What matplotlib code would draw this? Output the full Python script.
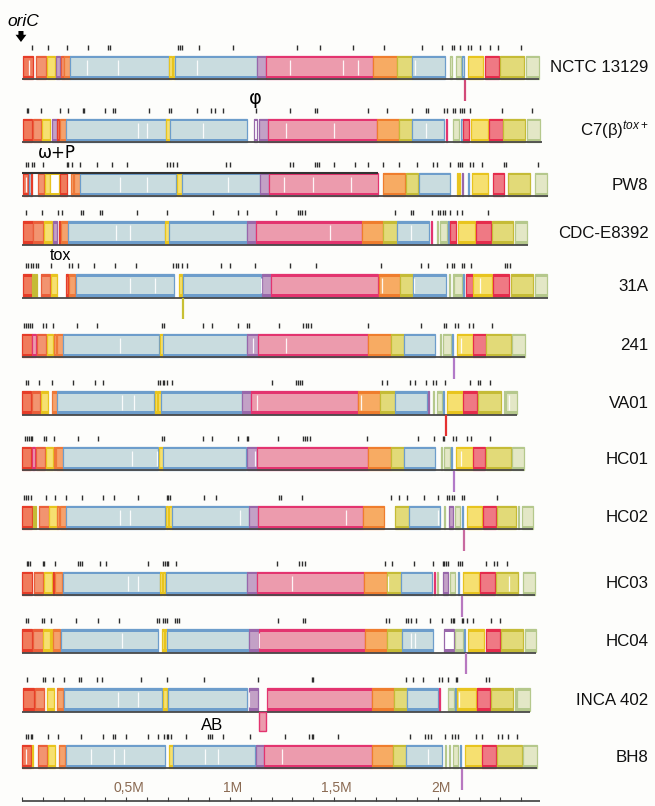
import matplotlib
matplotlib.use("Agg")
import matplotlib.pyplot as plt
from matplotlib.patches import Rectangle

plt.rcParams['font.family'] = ['Liberation Sans', 'DejaVu Sans']
plt.rcParams['mathtext.fontset'] = 'custom'
plt.rcParams['mathtext.rm'] = 'Liberation Sans'
plt.rcParams['mathtext.it'] = 'Liberation Sans:italic'

# genomes, top to bottom; all positions in kb
strains = ['NCTC 13129', r'C7(β)$^{\mathit{tox+}}$', 'PW8', 'CDC-E8392', '31A', '241',
           'VA01', 'HC01', 'HC02', 'HC03', 'HC04', 'INCA 402', 'BH8']
lengths = [2486, 2499, 2530, 2431, 2528, 2418, 2381, 2414, 2458, 2467, 2471, 2442, 2475]

# locally collinear blocks: (start, end, colour key)
nctc13129 = [(5, 53, 'R'), (67, 115, 'S'), (120, 159, 'Y'), (163, 183, 'P'), (188, 202, 'S'),
             (202, 231, 'O'), (231, 707, 'B'), (707, 721, 'Y'), (724, 736, 'Y'), (736, 1130, 'B'),
             (1130, 1173, 'P'), (1173, 1688, 'K'), (1688, 1803, 'A'), (1803, 1875, 'L'),
             (1875, 2034, 'B'), (2058, 2065, 'G'), (2087, 2111, 'G'), (2116, 2125, 'B'),
             (2144, 2216, 'Y'), (2226, 2293, 'D'), (2298, 2414, 'L'), (2423, 2486, 'G')]
c7 = [(3, 50, 'R'), (53, 93, 'S'), (96, 135, 'Y'), (143, 167, 'P'), (170, 178, 'R'),
      (183, 212, 'O'), (212, 691, 'B'), (691, 712, 'Y'), (712, 1082, 'B'), (1115, 1128, 'p'),
      (1139, 1183, 'P'), (1183, 1705, 'K'), (1705, 1813, 'A'), (1813, 1874, 'L'),
      (1874, 2029, 'B'), (2039, 2043, 'K'), (2072, 2101, 'G'), (2109, 2122, 'B'),
      (2122, 2151, 'D'), (2157, 2242, 'Y'), (2247, 2311, 'D'), (2314, 2420, 'L'),
      (2429, 2491, 'G')]
pw8 = [(6, 29, 'R'), (34, 41, 'B'), (41, 50, 'R'), (75, 107, 'S'), (111, 135, 'Y'),
       (135, 179, 'y'), (183, 215, 'R'), (236, 247, 'O'), (250, 279, 'O'), (279, 740, 'B'),
       (744, 768, 'Y'), (768, 1144, 'B'), (1144, 1189, 'P'), (1189, 1713, 'K'),
       (1734, 1841, 'A'), (1846, 1905, 'L'), (1910, 2058, 'B'), (2089, 2094, 'Y'),
       (2101, 2106, 'Y'), (2113, 2120, 'P'), (2142, 2149, 'B'), (2162, 2242, 'Y'),
       (2263, 2319, 'D'), (2338, 2442, 'L'), (2466, 2523, 'G')]
cdc_e8392 = [(3, 51, 'R'), (54, 100, 'S'), (106, 143, 'Y'), (150, 170, 'P'), (176, 183, 'R'),
             (188, 220, 'O'), (220, 688, 'B'), (688, 707, 'Y'), (707, 1080, 'B'),
             (1080, 1125, 'P'), (1125, 1633, 'K'), (1633, 1737, 'A'), (1737, 1802, 'L'),
             (1802, 1958, 'B'), (1966, 1971, 'K'), (1993, 1998, 'G'), (2010, 2042, 'G'),
             (2046, 2051, 'B'), (2058, 2087, 'D'), (2095, 2178, 'Y'), (2183, 2255, 'D'),
             (2261, 2362, 'L'), (2370, 2427, 'G')]
s31a = [(3, 47, 'R'), (49, 54, 'L'), (57, 62, 'L'), (65, 70, 'L'), (90, 135, 'S'),
        (138, 170, 'Y'), (212, 220, 'R'), (227, 255, 'O'), (260, 731, 'B'), (756, 771, 'Y'),
        (776, 1149, 'B'), (1152, 1196, 'P'), (1196, 1710, 'K'), (1716, 1817, 'A'),
        (1817, 1881, 'L'), (1881, 2039, 'B'), (2053, 2058, 'G'), (2070, 2075, 'G'),
        (2078, 2114, 'G'), (2120, 2125, 'B'), (2133, 2167, 'D'), (2170, 2260, 'Y'),
        (2266, 2343, 'D'), (2350, 2455, 'L'), (2466, 2523, 'G')]
s241 = [(0, 47, 'R'), (50, 66, 'K'), (71, 114, 'S'), (119, 150, 'Y'), (154, 163, 'O'),
        (170, 196, 'O'), (199, 660, 'B'), (663, 679, 'Y'), (679, 1080, 'B'), (1083, 1136, 'P'),
        (1136, 1665, 'K'), (1665, 1774, 'A'), (1774, 1837, 'L'), (1837, 1986, 'B'),
        (2010, 2015, 'G'), (2026, 2061, 'G'), (2065, 2070, 'B'), (2090, 2167, 'Y'),
        (2170, 2229, 'D'), (2231, 2350, 'L'), (2357, 2418, 'G')]
va01 = [(0, 42, 'R'), (47, 87, 'S'), (90, 124, 'Y'), (143, 167, 'O'), (170, 635, 'B'),
        (639, 651, 'Y'), (654, 667, 'Y'), (667, 1056, 'B'), (1056, 1100, 'P'), (1100, 1617, 'K'),
        (1617, 1721, 'A'), (1721, 1793, 'L'), (1793, 1946, 'B'), (1952, 1957, 'P'),
        (1976, 1981, 'G'), (1994, 2018, 'G'), (2024, 2029, 'B'), (2045, 2119, 'Y'),
        (2122, 2189, 'D'), (2194, 2302, 'L'), (2315, 2320, 'G'), (2327, 2381, 'G')]
hc01 = [(0, 43, 'R'), (47, 63, 'K'), (67, 111, 'S'), (114, 148, 'Y'), (154, 159, 'O'),
        (163, 196, 'O'), (196, 655, 'B'), (660, 676, 'Y'), (676, 1077, 'B'), (1080, 1131, 'P'),
        (1131, 1662, 'K'), (1662, 1774, 'A'), (1774, 1837, 'L'), (1837, 1986, 'B'),
        (2015, 2020, 'G'), (2030, 2058, 'G'), (2064, 2068, 'B'), (2085, 2167, 'Y'),
        (2170, 2226, 'D'), (2229, 2350, 'L'), (2354, 2414, 'G')]
hc02 = [(0, 47, 'R'), (53, 58, 'L'), (64, 69, 'L'), (83, 130, 'S'), (131, 167, 'Y'),
        (170, 178, 'O'), (183, 210, 'O'), (212, 688, 'B'), (691, 703, 'Y'), (707, 720, 'Y'),
        (720, 1093, 'B'), (1093, 1136, 'P'), (1136, 1638, 'K'), (1638, 1740, 'A'),
        (1793, 1862, 'L'), (1862, 2010, 'B'), (2029, 2034, 'G'), (2053, 2074, 'P'),
        (2082, 2106, 'G'), (2116, 2120, 'B'), (2138, 2210, 'Y'), (2215, 2279, 'D'),
        (2282, 2375, 'L'), (2385, 2390, 'G'), (2403, 2458, 'G')]
hc03 = [(0, 50, 'R'), (58, 102, 'S'), (107, 143, 'Y'), (148, 154, 'R'), (159, 191, 'O'),
        (196, 663, 'B'), (663, 675, 'Y'), (678, 688, 'Y'), (691, 1080, 'B'), (1083, 1128, 'P'),
        (1128, 1646, 'K'), (1646, 1753, 'A'), (1753, 1822, 'L'), (1822, 1973, 'B'),
        (1981, 1986, 'K'), (1995, 2000, 'G'), (2026, 2050, 'P'), (2058, 2082, 'G'),
        (2097, 2102, 'B'), (2119, 2197, 'Y'), (2202, 2274, 'D'), (2278, 2386, 'L'),
        (2410, 2467, 'G')]
hc04 = [(0, 50, 'R'), (54, 100, 'S'), (102, 135, 'Y'), (138, 143, 'Y'), (150, 183, 'O'),
        (188, 655, 'B'), (672, 684, 'Y'), (688, 699, 'Y'), (699, 1093, 'B'), (1093, 1141, 'P'),
        (1141, 1649, 'K'), (1649, 1756, 'A'), (1756, 1826, 'L'), (1826, 1978, 'B'),
        (2029, 2078, 'p'), (2082, 2119, 'G'), (2123, 2128, 'B'), (2146, 2221, 'Y'),
        (2229, 2298, 'D'), (2302, 2407, 'L'), (2418, 2471, 'G')]
inca402 = [(6, 59, 'R'), (63, 107, 'S'), (119, 155, 'Y'), (167, 199, 'O'), (202, 675, 'B'),
           (679, 699, 'Y'), (703, 1083, 'B'), (1093, 1136, 'P'), (1176, 1681, 'K'),
           (1681, 1789, 'A'), (1789, 1853, 'L'), (1853, 2002, 'B'), (2007, 2012, 'K'),
           (2047, 2077, 'G'), (2082, 2087, 'B'), (2090, 2183, 'Y'), (2186, 2250, 'D'),
           (2254, 2362, 'L'), (2368, 2373, 'G'), (2381, 2442, 'G')]
bh8 = [(0, 42, 'R'), (47, 54, 'Y'), (78, 122, 'S'), (126, 159, 'Y'), (178, 207, 'O'),
       (210, 688, 'B'), (708, 725, 'Y'), (727, 1120, 'B'), (1125, 1165, 'P'), (1165, 1681, 'K'),
       (1681, 1782, 'A'), (1782, 1846, 'L'), (1846, 2018, 'B'), (2034, 2039, 'G'),
       (2053, 2058, 'G'), (2071, 2098, 'G'), (2107, 2112, 'B'), (2130, 2210, 'Y'),
       (2213, 2279, 'D'), (2282, 2403, 'L'), (2410, 2475, 'G')]
all_blocks = [nctc13129, c7, pw8, cdc_e8392, s31a, s241, va01, hc01, hc02, hc03, hc04,
              inca402, bh8]

# LCB boundary ticks above each genome (kb)
nctc13129_ticks = [48, 125, 216, 317, 413, 423, 750, 760, 769, 851, 1014, 1322, 1433, 1591,
                   1740, 1923, 2019, 2067, 2077, 2106, 2144, 2159, 2202, 2250, 2289, 2399]
c7_ticks = [23, 30, 90, 183, 220, 295, 300, 399, 439, 447, 611, 707, 715, 843, 907, 928, 968,
            1125, 1289, 1409, 1417, 1665, 1756, 1877, 1942, 1954, 2029, 2042, 2071, 2082, 2106,
            2117, 2125, 2154, 2309, 2451]
pw8_ticks = [19, 30, 47, 59, 102, 215, 223, 239, 279, 359, 431, 503, 696, 712, 727, 744, 981,
             1000, 1289, 1304, 1409, 1420, 1429, 1502, 1601, 1665, 1737, 1814, 1898, 1975, 1994,
             2058, 2095, 2106, 2116, 2154, 2170, 2210, 2317, 2327, 2482]
cdc_e8392_ticks = [19, 95, 172, 191, 284, 292, 375, 386, 554, 696, 920, 1037, 1080, 1221, 1326,
                   1337, 1348, 1361, 1793, 1870, 1881, 1970, 2002, 2010, 2023, 2034, 2058, 2090,
                   2117, 2239]
s31a_ticks = [19, 30, 42, 54, 66, 78, 138, 227, 239, 268, 348, 447, 548, 727, 740, 751, 768,
              792, 955, 1000, 1120, 1289, 1414, 1726, 1917, 1954, 2042, 2069, 2077, 2117, 2125,
              2157, 2322, 2333, 2346]
s241_ticks = [10, 19, 30, 38, 50, 100, 115, 150, 266, 362, 675, 683, 872, 915, 1040, 1083, 1093,
              1237, 1352, 1365, 1377, 1388, 1665, 1917, 2029, 2039, 2082, 2095, 2151, 2170, 2261]
va01_ticks = [19, 30, 83, 143, 247, 351, 388, 655, 663, 676, 683, 696, 720, 1201, 1317, 1328,
              1337, 1345, 1729, 1756, 1866, 1890, 1942, 1978, 1991, 2034, 2154, 2191, 2202, 2250]
hc01_ticks = [14, 23, 34, 43, 50, 106, 114, 154, 268, 364, 675, 683, 869, 912, 1040, 1083, 1088,
              1232, 1350, 1361, 1372, 1385, 1657, 1905, 1981, 2023, 2030, 2074, 2085, 2138, 2159,
              2250]
hc02_ticks = [10, 19, 30, 43, 114, 159, 212, 287, 388, 442, 556, 696, 703, 712, 876, 931, 1237,
              1245, 1345, 1773, 1814, 1853, 1933, 2002, 2042, 2054, 2066, 2077, 2114, 2125, 2282]
hc03_ticks = [23, 30, 38, 100, 107, 159, 271, 279, 287, 375, 404, 607, 679, 688, 696, 703, 740,
              1227, 1333, 1345, 1361, 1745, 1778, 1885, 1978, 2023, 2029, 2039, 2047, 2098, 2106,
              2114, 2231, 2271, 2282, 2330]
hc04_ticks = [19, 30, 95, 106, 139, 260, 364, 468, 651, 659, 679, 688, 696, 736, 747, 756, 1232,
              1353, 1361, 1750, 1766, 1846, 1857, 1870, 1894, 1962, 2018, 2061, 2071, 2077, 2114,
              2122, 2138, 2170, 2254, 2298]
inca402_ticks = [23, 100, 111, 148, 203, 275, 284, 359, 383, 571, 699, 876, 1133, 1393, 1401,
                 1846, 1881, 1927, 2006, 2018, 2047, 2087, 2093, 2231, 2247]
bh8_ticks = [19, 30, 42, 50, 124, 175, 284, 388, 436, 447, 499, 604, 655, 684, 696, 703, 715,
             789, 896, 904, 912, 965, 1096, 1265, 1381, 1393, 1401, 1521, 1866, 1938, 1953, 1966,
             2034, 2066, 2082, 2098, 2183, 2210, 2290, 2306, 2338, 2381]
all_ticks = [nctc13129_ticks, c7_ticks, pw8_ticks, cdc_e8392_ticks, s31a_ticks, s241_ticks,
             va01_ticks, hc01_ticks, hc02_ticks, hc03_ticks, hc04_ticks, inca402_ticks, bh8_ticks]

# low-similarity gaps inside blocks (kb)
gaps = [[33, 313, 462, 841, 1289, 1543, 1616, 1890],
        [560, 600, 870, 1270, 1500, 1940],
        [20, 470, 600, 990, 1260, 1400, 1580],
        [450, 520, 1480, 1870],
        [520, 640, 1150, 1730, 1885, 2200],
        [470, 1110, 1270, 2110],
        [480, 540, 1130, 1630, 2340],
        [530, 650, 1120, 2110],
        [470, 520, 1050, 1560, 2000],
        [510, 560, 1300, 1760, 2340],
        [480, 1140, 1870, 1890],
        [460, 560, 1090, 2100],
        [20, 330, 440, 490, 880, 940, 1250, 1950]]

# blocks hanging below the genome line (inverted)
hang_rows = [0, 4, 5, 6, 7, 8, 9, 10, 12]
hang_kb = [2130, 773, 2078, 2039, 2077, 2125, 2114, 2133, 2117]
inca_inverted = (1141, 1172)

scale_ticks = [500, 1000, 1500, 2000]
scale_labels = ['0,5M', '1M', '1,5M', '2M']

# ---- styling ----
palette = {
    'R': ('#f07b5c', '#e63c28'), 'S': ('#f29470', '#ea5f3a'), 'Y': ('#f6e070', '#e8c41e'),
    'P': ('#c3a1c6', '#9867aa'), 'O': ('#f5a26c', '#ee7838'), 'B': ('#c9dcdf', '#6d9dcb'),
    'K': ('#ec9bad', '#e3346f'), 'A': ('#f7ab63', '#ef7d2d'), 'L': ('#e2da78', '#c5bb36'),
    'D': ('#ef7984', '#e52c4c'), 'G': ('#e3e7c6', '#b5c88c'),
    'p': ('#ffffff', '#9867aa'), 'y': ('#ffffff', '#e8c41e'),
}
hang_colors = ['#d24a78', '#c8c034', '#b27ac8', '#e53030', '#b27ac8', '#c86aa0', '#b878c0',
               '#b878c0', '#b878c0']
row_y = [67, 130, 184, 232.5, 285.5, 345, 402.5, 458, 517, 583, 640.5, 699.5, 756]
half_h = 11.5
kb_per_px = 1000 / 208.0
x0_px = 22

fig = plt.figure(figsize=(6.55, 8.06), dpi=100)
fig.patch.set_facecolor('#fdfdfb')
ax = fig.add_axes([0, 0, 1, 1])
ax.set_xlim(-x0_px * kb_per_px, (655 - x0_px) * kb_per_px)
ax.set_ylim(806, 0)
ax.axis('off')
label_tr = ax.get_yaxis_transform()

for i, (blocks, ticks) in enumerate(zip(all_blocks, all_ticks)):
    yc = row_y[i]
    top, bot = yc - half_h, yc + half_h
    for s, e, key in blocks:
        fill, edge = palette[key]
        ax.add_patch(Rectangle((s, top), e - s, bot - top, facecolor=fill, edgecolor=edge,
                               lw=0.9, zorder=2))
        ax.add_patch(Rectangle((s, top), e - s, 2.6, facecolor=edge, lw=0, zorder=3))
        ax.add_patch(Rectangle((s, bot - 2.6), e - s, 2.6, facecolor=edge, lw=0, zorder=3))
    ax.vlines(gaps[i], top + 4, bot - 4, color='white', lw=0.9, alpha=0.9, zorder=3)
    ax.hlines(bot + 0.8, 0, lengths[i], color='#4a4a4a', lw=1.3, zorder=4)
    ax.vlines(ticks, top - 11, top - 6, color='#2e2e2e', lw=1.0, zorder=2)
    ax.text(0.99, yc + 1, strains[i], transform=label_tr, ha='right',
            va='center', fontsize=12.2, color='#111111')

# PW8 has a dark rule along its upper edge
ax.hlines(row_y[2] - half_h, 0, pw8[13][1], color='#333333', lw=1.5, zorder=4)

for r, kb, c in zip(hang_rows, hang_kb, hang_colors):
    yb = row_y[r] + half_h + 1
    ax.vlines(kb, yb, yb + 21, color=c, lw=1.6, zorder=4)

fill, edge = palette['K']
yb = row_y[11] + half_h + 1
ax.add_patch(Rectangle((inca_inverted[0], yb), inca_inverted[1] - inca_inverted[0], 19,
                       facecolor=fill, edgecolor=edge, lw=1.0, zorder=4))

# annotations
ax.text(5, 22, 'oriC', style='italic', fontsize=12.5, ha='center', va='center')
ax.annotate('', xy=(-5, 42), xytext=(-5, 31),
            arrowprops=dict(arrowstyle='simple,head_width=0.6,head_length=0.4,tail_width=0.28',
                            mutation_scale=13, color='black', lw=0, shrinkA=0, shrinkB=0))
ax.text(1124, 98, 'φ', fontsize=14, ha='center', va='center', family='DejaVu Sans')
ax.text(168, 153, 'ω+P', fontsize=12, ha='center', va='center', family='DejaVu Sans')
ax.text(185, 256, 'tox', fontsize=11.5, ha='center', va='center')
ax.text(916, 726, 'AB', fontsize=12, ha='center', va='center')

# scale bar
ax.hlines(801, 0, 2490, color='#3d3d3d', lw=1.2)
ax.vlines(range(0, 2500, 100), 797, 801, color='#3d3d3d', lw=0.8)
for t, lab in zip(scale_ticks, scale_labels):
    ax.text(t + 12, 788, lab, fontsize=10, ha='center', va='center', color='#8a6a52')

fig.savefig('out.png', dpi=100, facecolor=fig.get_facecolor())
